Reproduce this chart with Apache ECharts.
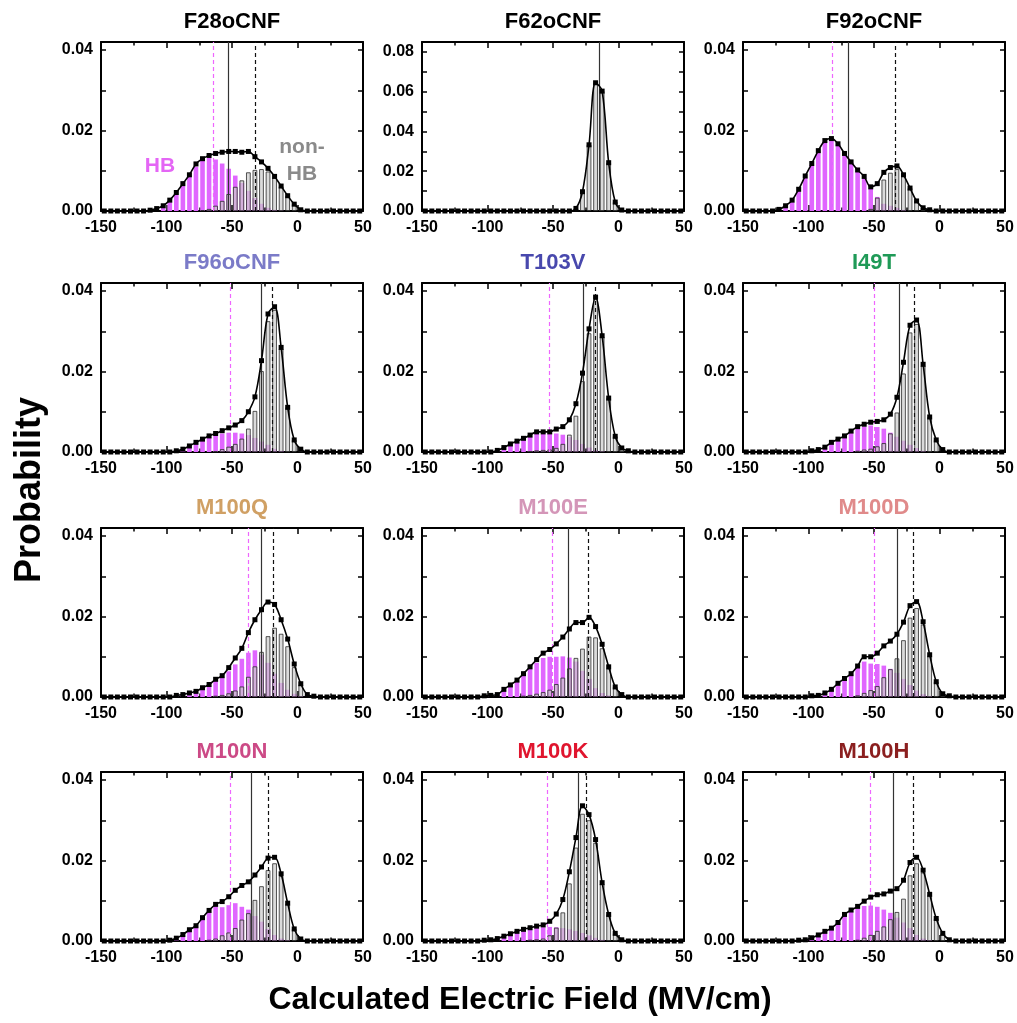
<!DOCTYPE html>
<html><head><meta charset="utf-8">
<script src="https://cdn.jsdelivr.net/npm/echarts@6/dist/echarts.min.js"></script>
<style>html,body{margin:0;padding:0;background:#fff}#c{width:1017px;height:1023px}</style>
</head><body><div id="c"></div>
<script>
// ---------------- DATA ----------------
const binCenters = [-147.5,-142.5,-137.5,-132.5,-127.5,-122.5,-117.5,-112.5,-107.5,-102.5,
  -97.5,-92.5,-87.5,-82.5,-77.5,-72.5,-67.5,-62.5,-57.5,-52.5,
  -47.5,-42.5,-37.5,-32.5,-27.5,-22.5,-17.5,-12.5,-7.5,-2.5,
  2.5,7.5,12.5,17.5,22.5,27.5,32.5,37.5,42.5,47.5];
const xTickValues = [-150,-100,-50,0,50];
const panelNames = ['F28oCNF','F62oCNF','F92oCNF','F96oCNF','T103V','I49T','M100Q','M100E','M100D','M100N','M100K','M100H'];

const F28_total = [0,0,0,0,0,0,0,.0002,.0006,.0013, .0027,.0046,.0068,.009,.0117,.013,.0138,.0143,.0146,.0148, .0148,.0146,.0148,.0135,.0122,.0106,.0086,.0062,.0038,.0017, .0003,0,0,0,0,0,0,0,0,0];
const F28_hb    = [0,0,0,0,0,0,0,0,0,.0008, .0022,.004,.0062,.0085,.011,.0127,.0132,.0128,.0118,.0105, .0088,.007,.005,.0032,.0018,.0008,.0003,.0001,0,0, 0,0,0,0,0,0,0,0,0,0];
const F28_non   = [0,0,0,0,0,0,0,0,0,0, 0,0,0,0,0,.0002,.0005,.0013,.0025,.0042, .006,.0076,.0096,.0102,.0104,.0098,.0083,.0061,.0038,.0017, .0003,0,0,0,0,0,0,0,0,0];

const F62_total = [0,0,0,0,0,0,0,0,0,0, 0,0,0,0,0,0,0,0,0,0, 0,0,0,.0013,.0097,.0333,.0645,.0603,.0243,.0045, .0005,0,0,0,0,0,0,0,0,0];
const F62_hb    = [0,0,0,0,0,0,0,0,0,0, 0,0,0,0,0,0,0,0,0,0, 0,0,0,0,0,0,0,0,0,0, 0,0,0,0,0,0,0,0,0,0];
const F62_non   = [0,0,0,0,0,0,0,0,0,0, 0,0,0,0,0,0,0,0,0,0, 0,0,0,.0013,.0097,.0333,.0645,.0603,.0243,.0045, .0005,0,0,0,0,0,0,0,0,0];

const F92_total = [0,0,0,0,0,.0004,.0013,.0027,.0054,.0087, .0118,.015,.0175,.018,.0167,.0143,.0122,.0102,.0086,.006, .0068,.0096,.0108,.0112,.009,.0057,.0025,.0008,.0003,0, 0,0,0,0,0,0,0,0,0,0];
const F92_hb    = [0,0,0,0,0,0,.0008,.0022,.005,.0083, .0115,.0148,.0172,.0178,.0166,.0142,.012,.01,.0083,.0055, .0035,.0018,.0013,.0008,.0003,0,0,0,0,0, 0,0,0,0,0,0,0,0,0,0];
const F92_non   = [0,0,0,0,0,0,0,0,0,0, 0,0,0,0,0,0,0,0,0,.0005, .0033,.0078,.0095,.0104,.0087,.0057,.0025,.0008,.0003,0, 0,0,0,0,0,0,0,0,0,0];

const F96_total = [0,0,0,0,0,0,0,0,0,0, 0,.0003,.0007,.0015,.0024,.0032,.004,.0046,.0053,.006, .0067,.0078,.01,.0137,.0227,.0343,.0361,.026,.0111,.003, .0007,0,0,0,0,0,0,0,0,0];
const F96_hb    = [0,0,0,0,0,0,0,0,0,0, 0,0,.0005,.0012,.0021,.003,.0037,.0043,.0046,.0048, .0048,.0046,.0042,.0035,.0026,.0018,.0008,.0003,0,0, 0,0,0,0,0,0,0,0,0,0];
const F96_non   = [0,0,0,0,0,0,0,0,0,0, 0,0,0,0,0,0,0,.0002,.0007,.0013, .002,.0033,.0058,.0102,.0201,.0325,.0353,.0257,.0111,.003, .0007,0,0,0,0,0,0,0,0,0];

const T103V_total = [0,0,0,0,0,0,0,0,0,0, 0,.0004,.0011,.002,.0027,.0034,.0042,.005,.005,.005, .0057,.0063,.008,.012,.0196,.0306,.0385,.0289,.0134,.0039, .001,.0003,0,0,0,0,0,0,0,0];
const T103V_hb    = [0,0,0,0,0,0,0,0,0,0, 0,.0003,.001,.0019,.0026,.0032,.0039,.0045,.0046,.0046, .0046,.0043,.0037,.003,.002,.0011,.0005,.0002,0,0, 0,0,0,0,0,0,0,0,0,0];
const T103V_non   = [0,0,0,0,0,0,0,0,0,0, 0,0,0,0,0,0,.0002,.0004,.0005,.0006, .001,.002,.0043,.009,.0176,.0295,.038,.0287,.0134,.0039, .001,.0003,0,0,0,0,0,0,0,0];

const I49T_total = [0,0,0,0,0,0,0,0,0,0, .0003,.0006,.0012,.0024,.0032,.004,.0052,.0063,.0069,.0074, .0076,.008,.0094,.0136,.0223,.0315,.0328,.0218,.0087,.003, .0006,0,0,0,0,0,0,0,0,0];
const I49T_hb    = [0,0,0,0,0,0,0,0,0,0, 0,.0004,.001,.0022,.003,.0038,.0049,.0058,.0063,.0066, .0062,.0058,.0048,.0038,.0028,.0018,.001,.0003,0,0, 0,0,0,0,0,0,0,0,0,0];
const I49T_non   = [0,0,0,0,0,0,0,0,0,0, 0,0,0,0,0,0,0,.0003,.0006,.0008, .0014,.0022,.0046,.0098,.0195,.0297,.0318,.0215,.0087,.003, .0006,0,0,0,0,0,0,0,0,0];

const M100Q_total = [0,0,0,0,0,0,0,0,0,0, 0,.0004,.0006,.001,.0014,.0023,.0031,.0044,.0053,.0073, .0097,.0121,.016,.0192,.0217,.0236,.023,.0192,.0144,.0082, .0033,.0006,.0002,0,0,0,0,0,0,0];
const M100Q_hb    = [0,0,0,0,0,0,0,0,0,0, 0,.0003,.0005,.0009,.0013,.0021,.0029,.004,.0048,.0064, .0081,.0095,.011,.0116,.0105,.0085,.0058,.0035,.0018,.0008, .0002,0,0,0,0,0,0,0,0,0];
const M100Q_non   = [0,0,0,0,0,0,0,0,0,0, 0,0,0,0,0,0,0,.0003,.0005,.0009, .0016,.0026,.005,.0076,.0112,.0151,.0172,.0157,.0126,.0074, .0031,.0006,.0002,0,0,0,0,0,0,0];

const M100E_total = [0,0,0,0,0,0,0,0,0,.0003, .0004,.0006,.0019,.003,.0042,.0058,.0075,.0093,.0109,.0118, .0132,.0149,.0169,.0185,.0185,.0198,.0175,.0131,.0075,.0025, .0006,0,0,0,0,0,0,0,0,0];
const M100E_hb    = [0,0,0,0,0,0,0,0,0,0, .0003,.0005,.0017,.0028,.004,.0054,.007,.0085,.0097,.01, .01,.0101,.0098,.0088,.0065,.0045,.0022,.001,.0004,0, 0,0,0,0,0,0,0,0,0,0];
const M100E_non   = [0,0,0,0,0,0,0,0,0,0, 0,0,0,0,0,.0003,.0005,.0008,.0012,.0018, .0032,.0048,.0071,.0097,.012,.015,.0148,.0121,.0071,.0025, .0006,0,0,0,0,0,0,0,0,0];

const M100D_total = [0,0,0,0,0,0,0,0,0,0, .0003,.0004,.001,.0019,.0034,.0046,.0058,.0077,.01,.01, .0109,.0127,.0139,.0156,.0186,.0227,.0237,.0187,.0105,.0038, .0008,.0003,0,0,0,0,0,0,0,0];
const M100D_hb    = [0,0,0,0,0,0,0,0,0,0, 0,.0003,.0009,.0018,.0032,.0044,.0056,.0072,.0088,.0083, .0082,.0078,.007,.006,.0045,.003,.0016,.0007,.0002,0, 0,0,0,0,0,0,0,0,0,0];
const M100D_non   = [0,0,0,0,0,0,0,0,0,0, 0,0,0,0,0,0,0,.0004,.001,.0017, .0027,.0049,.0069,.0096,.0141,.0197,.0221,.018,.0103,.0038, .0008,.0003,0,0,0,0,0,0,0,0];

const M100N_total = [0,0,0,0,0,0,0,0,0,0, .0002,.0007,.0016,.0028,.0038,.0058,.0076,.0091,.0098,.011, .0126,.0138,.0147,.0164,.0184,.0206,.0208,.0167,.0094,.003, .0005,0,0,0,0,0,0,0,0,0];
const M100N_hb    = [0,0,0,0,0,0,0,0,0,0, .0001,.0005,.0014,.0026,.0036,.0055,.0072,.0085,.0084,.0089, .0094,.0085,.0078,.0062,.0048,.003,.0015,.0006,.0002,0, 0,0,0,0,0,0,0,0,0,0];
const M100N_non   = [0,0,0,0,0,0,0,0,0,0, 0,0,0,0,0,0,.0003,.0006,.0014,.0021, .0032,.0053,.0069,.0102,.0136,.0176,.0193,.0161,.0092,.003, .0005,0,0,0,0,0,0,0,0,0];

const M100K_total = [0,0,0,0,0,0,0,0,0,.0002, .0003,.0006,.0012,.0018,.0024,.0029,.0033,.0037,.004,.0049, .0067,.0103,.0172,.0257,.0336,.0314,.0252,.0145,.0066,.0019, .0003,0,0,0,0,0,0,0,0,0];
const M100K_hb    = [0,0,0,0,0,0,0,0,0,0, .0002,.0005,.0011,.0017,.0022,.0027,.003,.0033,.0034,.0035, .0034,.0032,.0029,.0025,.002,.0014,.0008,.0003,0,0, 0,0,0,0,0,0,0,0,0,0];
const M100K_non   = [0,0,0,0,0,0,0,0,0,0, 0,0,0,0,0,0,.0003,.0004,.0006,.0014, .0033,.0071,.0143,.0232,.0316,.03,.0244,.0142,.0066,.0019, .0003,0,0,0,0,0,0,0,0,0];

const M100H_total = [0,0,0,0,0,0,0,0,.0002,.0003, .0008,.0015,.0024,.0032,.0046,.0066,.0077,.0086,.0099,.0109, .0115,.0117,.0124,.013,.0151,.0195,.0208,.0176,.0116,.0056, .0019,.0003,0,0,0,0,0,0,0,0];
const M100H_hb    = [0,0,0,0,0,0,0,0,0,.0002, .0006,.0013,.0022,.003,.0044,.0063,.0073,.008,.0087,.0088, .0085,.0078,.007,.0058,.0046,.0032,.0015,.0006,.0002,0, 0,0,0,0,0,0,0,0,0,0];
const M100H_non   = [0,0,0,0,0,0,0,0,0,0, 0,0,0,0,0,0,0,.0003,.0008,.0015, .0025,.0036,.0054,.0072,.0105,.0163,.0193,.017,.0114,.0056, .0019,.0003,0,0,0,0,0,0,0,0];

// mean field of HB subset, of all frames, of non-HB subset (MV/cm)
const meanHB  = [-64, null, -82, -51, -52.5, -50, -37.5, -50.5, -50, -51.5, -54.5, -52.5];
const meanAll = [-52.5, -15, -70, -27.5, -27, -30.5, -27.5, -38, -32, -35.5, -30.5, -35];
const meanNon = [-32.5, -15, -34, -19.5, -18, -19.5, -18.5, -23, -20, -22, -24.5, -20];

const yMaxes = [0.042,0.085,0.042,0.042,0.042,0.042,0.042,0.042,0.042,0.042,0.042,0.042];
const yLabels4 = [0, 0.02, 0.04];
const yLabels8 = [0, 0.02, 0.04, 0.06, 0.08];

const totals = [F28_total,F62_total,F92_total,F96_total,T103V_total,I49T_total,M100Q_total,M100E_total,M100D_total,M100N_total,M100K_total,M100H_total];
const hbs = [F28_hb,F62_hb,F92_hb,F96_hb,T103V_hb,I49T_hb,M100Q_hb,M100E_hb,M100D_hb,M100N_hb,M100K_hb,M100H_hb];
const nons = [F28_non,F62_non,F92_non,F96_non,T103V_non,I49T_non,M100Q_non,M100E_non,M100D_non,M100N_non,M100K_non,M100H_non];

// ---------------- STYLE / LAYOUT ----------------
const titleColors = ['#000','#000','#000','#7b7bc8','#4848ad','#1f9a57','#d0a064','#d496b8','#e08a8a','#cc4a86','#e0152e','#8b1f1f'];
const FF = "'Liberation Sans', Arial, Helvetica, sans-serif";
const colLeft = [101, 422, 743];
const rowTop = [42, 283, 528, 772];
const W = 262, H = 169;

const option = {animation:false, backgroundColor:'#fff', grid:[], xAxis:[], yAxis:[], series:[], graphic:[]};

function toPairs(vals, dropZero){
  return binCenters.map((x,k)=>[x, (dropZero && vals[k]===0) ? null : vals[k]]);
}

panelNames.forEach((name,i)=>{
  const r = Math.floor(i/3), c = i%3;
  option.grid.push({left:colLeft[c], top:rowTop[r], width:W, height:H, containLabel:false});
  const xi = option.xAxis.length, yi = option.yAxis.length;
  const line = {show:true, onZero:false, lineStyle:{color:'#000', width:2}};
  const tick = {show:true, inside:true, length:6, lineStyle:{color:'#000', width:1.5}};
  const minor = {show:true, splitNumber:2, length:3.5, lineStyle:{color:'#000', width:1.5}};
  ['bottom','top'].forEach(pos=>{
    option.xAxis.push({gridIndex:i, type:'value', position:pos, min:-150, max:50, interval:50,
      axisLine:line, axisTick:tick, minorTick:minor, splitLine:{show:false}, minorSplitLine:{show:false},
      axisLabel: pos==='bottom' ? {show:true, color:'#000', fontSize:16, fontWeight:'bold', fontFamily:FF, margin:9,
        customValues:xTickValues} : {show:false}});
  });
  const yMax = yMaxes[i];
  const labs = yMax > 0.05 ? yLabels8 : yLabels4;
  ['left','right'].forEach(pos=>{
    option.yAxis.push({gridIndex:i, type:'value', position:pos, min:0, max:yMax, interval:0.01,
      axisLine:line, axisTick:Object.assign({}, tick, {length:5}), splitLine:{show:false},
      axisLabel: pos==='left' ? {show:true, color:'#000', fontSize:16, fontWeight:'bold', fontFamily:FF, margin:8,
        customValues:labs, formatter:v=>v.toFixed(2)} : {show:false}});
  });

  option.series.push({type:'bar', xAxisIndex:xi, yAxisIndex:yi, data:toPairs(hbs[i], true),
    barWidth:4.6, barGap:'-100%', itemStyle:{color:'#e066ff'}, silent:true, z:2});
  option.series.push({type:'bar', xAxisIndex:xi, yAxisIndex:yi, data:toPairs(nons[i], true),
    barWidth:4.6, barGap:'-100%', itemStyle:{color:'rgba(205,205,205,0.72)', borderColor:'#2a2a2a', borderWidth:0.8}, silent:true, z:3});
  const ml = [];
  if (meanHB[i] !== null) ml.push({xAxis:meanHB[i], lineStyle:{color:'#ee66ff', type:[4,3], width:1.2}});
  ml.push({xAxis:meanAll[i], lineStyle:{color:'#333', type:'solid', width:1.2}});
  if (meanNon[i] !== null && meanNon[i] !== meanAll[i]) ml.push({xAxis:meanNon[i], lineStyle:{color:'#111', type:[4,3], width:1.2}});
  option.series.push({type:'line', xAxisIndex:xi, yAxisIndex:yi, data:toPairs(totals[i], false),
    smooth:0.35, symbol:'rect', symbolSize:5, itemStyle:{color:'#000'}, lineStyle:{color:'#000', width:1.6},
    silent:true, z:5,
    markLine:{symbol:'none', silent:true, label:{show:false}, animation:false, data:ml, z:4}});

  option.graphic.push({type:'text', x:colLeft[c] + W/2, y:rowTop[r] - 20,
    style:{text:name, textAlign:'center', textVerticalAlign:'middle', fill:titleColors[i],
      font:'bold 22px ' + FF}});
});

option.graphic.push({type:'text', x:160, y:166, style:{text:'HB', textAlign:'center', textVerticalAlign:'middle', fill:'#e466f5', font:'bold 21px ' + FF}});
option.graphic.push({type:'text', x:302, y:147, style:{text:'non-', textAlign:'center', textVerticalAlign:'middle', fill:'#8a8a8a', font:'bold 21px ' + FF}});
option.graphic.push({type:'text', x:302, y:174, style:{text:'HB', textAlign:'center', textVerticalAlign:'middle', fill:'#8a8a8a', font:'bold 21px ' + FF}});
option.graphic.push({type:'text', x:520, y:1000, style:{text:'Calculated Electric Field (MV/cm)', textAlign:'center', textVerticalAlign:'middle', fill:'#000', font:'bold 32px ' + FF}});
option.graphic.push({type:'text', x:30, y:490, rotation:Math.PI/2, style:{text:'Probability', textAlign:'center', textVerticalAlign:'middle', fill:'#000', font:'bold 36px ' + FF}});

const chart = echarts.init(document.getElementById('c'), null, {renderer:'canvas'});
chart.setOption(option);
</script>
</body></html>
